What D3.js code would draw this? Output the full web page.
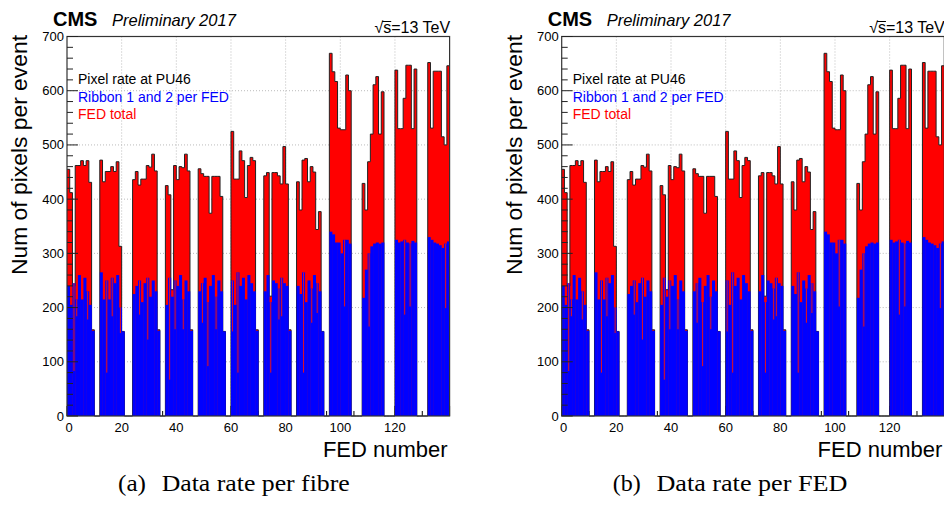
<!DOCTYPE html>
<html><head><meta charset="utf-8">
<script src="https://cdn.jsdelivr.net/npm/d3@7/dist/d3.min.js"></script>
<style>body{margin:0;background:#fff}svg{display:block}</style>
</head><body>
<svg id="c" width="944" height="509"></svg>
<script>
// ---------------- data ----------------
const fedBins = d3.range(0, 140);          // FED number bins [n, n+1)
const fedTotal = [
  455,412,240,462,462,471,462,471,431,159, 0,0,
  472,432,451,451,460,451,469,313,156, 0,0,0,
  436,451,426,437,437,462,459,483,452,159, 0,0,
  425,408,233,462,436,460,458,483,452,159, 0,0,
  456,447,442,442,374,442,442,442,405,156, 0,0,
  525,437,437,489,471,403,462,477,471,159, 0,0,
  443,449,221,449,449,443,428,497,428,159, 0,0,
  432,380,472,475,432,460,450,344,377,156, 0,0,
  669,635,617,531,528,528,629,600, 0,0,0,0,
  429,380,469,520,611,626,520,598, 0,0,0,0,
  638,530,530,586,647,647,530,640, 0,0,0,0,
  652,531,636,636,636,515,500,646
];
const ribbon12 = [
  240,205,245,215,260,215,255,230,205,157, 0,0,
  265,215,250,215,255,245,260,200,156, 0,0,0,
  225,240,250,210,245,255,220,250,230,157, 0,0,
  205,255,220,250,240,260,215,250,230,157, 0,0,
  230,245,255,210,240,260,220,250,230,156, 0,0,
  250,205,265,240,255,215,260,245,230,157, 0,0,
  230,260,210,250,245,235,255,245,240,157, 0,0,
  240,225,265,210,250,235,260,245,230,156, 0,0,
  340,335,320,320,300,325,325,318, 0,0,0,0,
  218,270,300,313,318,320,318,320, 0,0,0,0,
  325,320,322,325,320,318,323,320, 0,0,0,0,
  330,325,320,318,315,310,318,322
];
// narrow dips of the ribbon histogram (fibre-level), FED and value
const dipFed   = [2, 3, 7, 14, 16, 19, 26, 29, 37, 39, 42, 49, 51, 54, 60, 62, 74, 77, 78, 86, 89, 91, 101, 110, 123, 125, 138];
const dipValue = [83,184,178,80,184,153,187,141,67,160,160,172,92,160,156,80,80,178,184,80,172,190,202,165,187,202,199];
const yTickValues = [0,100,200,300,400,500,600,700];
const xTickValues = [0,20,40,60,80,100,120];
const legendLines = ["Pixel rate at PU46","Ribbon 1 and 2 per FED","FED total"];
const legendColors = ["#000000","#0000ff","#ff0000"];
const captionLabels = ["(a)","(b)"];
const captionTexts = ["Data rate per fibre","Data rate per FED"];
const panelLefts = [67, 561.7];

const svg = d3.select("#c");
const SANS = "Liberation Sans, Arial, Helvetica, sans-serif";
const SERIF = "Liberation Serif, Times New Roman, serif";

function drawPanel(left, k) {
  const W = 382.6, top = 36.5, bottom = 416;
  const x = d3.scaleLinear().domain([0,140]).range([left, left+W]);
  const y = d3.scaleLinear().domain([0,700]).range([bottom, top]);
  const g = svg.append("g");

  // grid
  g.selectAll(".gx").data(xTickValues.filter(d=>d>0)).join("line")
    .attr("x1",d=>x(d)).attr("x2",d=>x(d)).attr("y1",top).attr("y2",bottom)
    .attr("stroke","#bbb").attr("stroke-width",1).attr("stroke-dasharray","1,2");
  g.selectAll(".gy").data(yTickValues.filter(d=>d>0&&d<700)).join("line")
    .attr("x1",left).attr("x2",left+W).attr("y1",d=>y(d)).attr("y2",d=>y(d))
    .attr("stroke","#bbb").attr("stroke-width",1).attr("stroke-dasharray","1,2");

  // x ticks (under bars)
  const xMinor = d3.range(0,141,5);
  g.selectAll(".xt").data(xMinor).join("line")
    .attr("x1",d=>x(d)).attr("x2",d=>x(d)).attr("y1",bottom)
    .attr("y2",d=> bottom - (d%20===0?10:5)).attr("stroke","#000").attr("stroke-width",1);

  // red histogram
  const pts = fedBins.map(i=>({x:i, v:fedTotal[i]}));
  pts.push({x:140, v:fedTotal[139]});
  const area = d3.area().curve(d3.curveStepAfter).x(d=>x(d.x)).y0(y(0)).y1(d=>y(d.v));
  g.append("path").datum(pts).attr("d",area).attr("fill","#ff0000");
  const line = d3.line().curve(d3.curveStepAfter).x(d=>x(d.x)).y(d=>y(d.v));
  g.append("path").datum(pts).attr("d",line).attr("fill","none").attr("stroke","#222").attr("stroke-width",1);

  // blue histogram
  g.selectAll(".bb").data(fedBins.filter(i=>ribbon12[i]>0)).join("rect")
    .attr("x",i=>x(i)).attr("width",i=>x(i+1)-x(i)+0.3)
    .attr("y",i=>y(ribbon12[i])).attr("height",i=>y(0)-y(ribbon12[i]))
    .attr("fill","#0000ff");
  // dips (red shows through)
  g.selectAll(".dp").data(dipFed.map((f,j)=>({f, v:dipValue[j]}))).join("rect")
    .attr("x",d=>x(d.f+0.35)).attr("width",d=>x(d.f+0.75)-x(d.f+0.35))
    .attr("y",d=>y(ribbon12[d.f])).attr("height",d=>y(d.v)-y(ribbon12[d.f]))
    .attr("fill","#d8102a");

  // frame
  g.append("rect").attr("x",left).attr("y",top).attr("width",W).attr("height",bottom-top)
    .attr("fill","none").attr("stroke","#333").attr("stroke-width",1.2);

  // y ticks (over bars)
  const yMinor = d3.range(0,701,20);
  g.selectAll(".yt").data(yMinor).join("line")
    .attr("x1",left).attr("x2",d=>left + (d%100===0?11:6))
    .attr("y1",d=>y(d)).attr("y2",d=>y(d)).attr("stroke","#222").attr("stroke-width",1);

  // tick labels
  g.selectAll(".yl").data(yTickValues).join("text")
    .attr("x",left-3).attr("y",d=>y(d)+4.5).attr("text-anchor","end")
    .attr("font-family",SANS).attr("font-size",13).text(d=>d);
  g.selectAll(".xl").data(xTickValues).join("text")
    .attr("x",d=>x(d)+(d===0?2:0)).attr("y",432).attr("text-anchor","middle")
    .attr("font-family",SANS).attr("font-size",13).text(d=>d);

  // axis titles
  g.append("text").attr("transform",`translate(${left-40},35) rotate(-90)`)
    .attr("text-anchor","end").attr("font-family",SANS).attr("font-size",22)
    .attr("textLength",240).attr("lengthAdjust","spacingAndGlyphs")
    .text("Num of pixels per event");
  g.append("text").attr("x",left+W-2).attr("y",456.5).attr("text-anchor","end")
    .attr("font-family",SANS).attr("font-size",22).text("FED number");

  // header
  g.append("text").attr("x",left-14).attr("y",26).attr("font-family",SANS)
    .attr("font-weight","bold").attr("font-size",20).text("CMS");
  g.append("text").attr("x",left+45).attr("y",26).attr("font-family",SANS)
    .attr("font-style","italic").attr("font-size",16.5).text("Preliminary 2017");
  const s = g.append("text").attr("x",left+W+0.5).attr("y",32.5).attr("text-anchor","end")
    .attr("font-family",SANS).attr("font-size",16).text("√s=13 TeV");
  const ext = s.node().getExtentOfChar(1);
  const ext0 = s.node().getExtentOfChar(0);
  g.append("line").attr("x1",ext0.x+ext0.width-1).attr("x2",ext.x+ext.width)
    .attr("y1",ext.y+3).attr("y2",ext.y+3).attr("stroke","#000").attr("stroke-width",1);

  // legend text
  g.selectAll(".lg").data(legendLines).join("text")
    .attr("x",left+11).attr("y",(d,i)=>84+i*17.5)
    .attr("font-family",SANS).attr("font-size",14)
    .attr("fill",(d,i)=>legendColors[i]).text(d=>d);

  // caption
  g.append("text").attr("x",left+51).attr("y",491)
    .attr("font-family",SERIF).attr("font-size",24)
    .attr("textLength",28).attr("lengthAdjust","spacingAndGlyphs").text(captionLabels[k]);
  g.append("text").attr("x",left+94.7).attr("y",491)
    .attr("font-family",SERIF).attr("font-size",24)
    .attr("textLength", k===0?188:191).attr("lengthAdjust","spacingAndGlyphs")
    .text(captionTexts[k]);
}

panelLefts.forEach((l,i)=>drawPanel(l, i));
</script>
</body></html>
